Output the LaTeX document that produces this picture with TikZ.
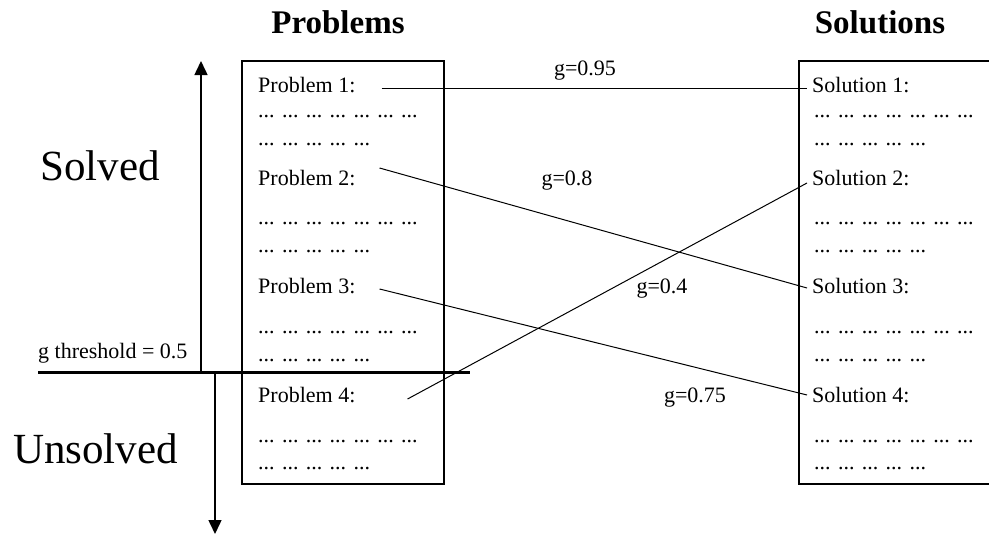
\documentclass[tikz,border=0pt]{standalone}
\usepackage{fontspec}
\setmainfont{Liberation Serif}
\usetikzlibrary{arrows.meta,positioning,calc}
\newcommand\longdots{... ... ... ... ... ... ...}
\newcommand\shortdots{... ... ... ... ...}
\tikzset{
  panel/.style={draw, line width=1.5pt, anchor=north west, inner sep=0pt},
  itemlabel/.style={font=\fontsize{22}{26}\selectfont, inner sep=0pt, anchor=base west},
  weight/.style={font=\fontsize{22}{26}\selectfont, inner sep=0pt, anchor=base},
  heading/.style={font=\fontsize{33}{38}\selectfont\bfseries, inner sep=0pt, anchor=base},
  side/.style={font=\fontsize{43}{50}\selectfont, inner sep=0pt, anchor=base west},
  link/.style={line width=1pt},
  axis/.style={line width=1.5pt, -{Triangle[width=13pt,length=14pt]}},
  threshold/.style={line width=3pt}
}

\begin{document}
\begin{tikzpicture}[x=1pt, y=-1pt]
  \useasboundingbox (0,0) rectangle (989,536);

  % the two columns
  \node[panel, minimum width=202pt, minimum height=423pt] (probbox) at (241,60) {};
  \node[panel, minimum width=210pt, minimum height=423pt] (solbox) at (798,60) {};
  \node[heading] (probtitle) at (338,33) {Problems};
  \node[heading] (soltitle) at (880,33) {Solutions};

  \foreach \i/\yl/\ya/\yb in {1/92/117/145, 2/185/224/252, 3/293/333/361, 4/402/442/469} {
    \node[itemlabel] (p\i) at (258,\yl) {Problem \i:};
    \node[itemlabel] (pa\i) at (258,\ya) {\longdots};
    \node[itemlabel] (pb\i) at (258,\yb) {\shortdots};
    \node[itemlabel] (s\i) at (812,\yl) {Solution \i:};
    \node[itemlabel] (sa\i) at (814,\ya) {\longdots};
    \node[itemlabel] (sb\i) at (814,\yb) {\shortdots};
  }

  % matches between problems and solutions
  \draw[link] ([xshift=26pt,yshift=4pt]p1.base east) -- ([xshift=-5pt,yshift=4pt]s1.base west);
  \draw[link] ([xshift=24pt,yshift=17pt]p2.base east) -- ([xshift=-5pt,yshift=5pt]s3.base west);
  \draw[link] ([xshift=24pt,yshift=4pt]p3.base east) -- ([xshift=-5pt,yshift=7pt]s4.base west);
  \draw[link] ([xshift=52pt,yshift=3pt]p4.base east) -- ([xshift=-5pt,yshift=2pt]s2.base west);
  \node[weight] (w1) at (585,75) {g=0.95};
  \node[weight] (w2) at (567,185) {g=0.8};
  \node[weight] (w3) at (662,293) {g=0.4};
  \node[weight] (w4) at (695,402) {g=0.75};

  % solved / unsolved split
  \coordinate (thl) at (38,372);
  \coordinate (thr) at (470,372);
  \coordinate (upend) at (201,61);
  \coordinate (downend) at (215,534);
  \draw[threshold] (thl) -- (thr);
  \node[itemlabel] (thtext) at (38,358) {g threshold = 0.5};
  \draw[axis] (thl -| upend) -- (upend);
  \draw[axis] (thl -| downend) -- (downend);
  \node[side] (solved) at (40,180) {Solved};
  \node[side] (unsolved) at (13,463) {Unsolved};
\end{tikzpicture}
\end{document}
